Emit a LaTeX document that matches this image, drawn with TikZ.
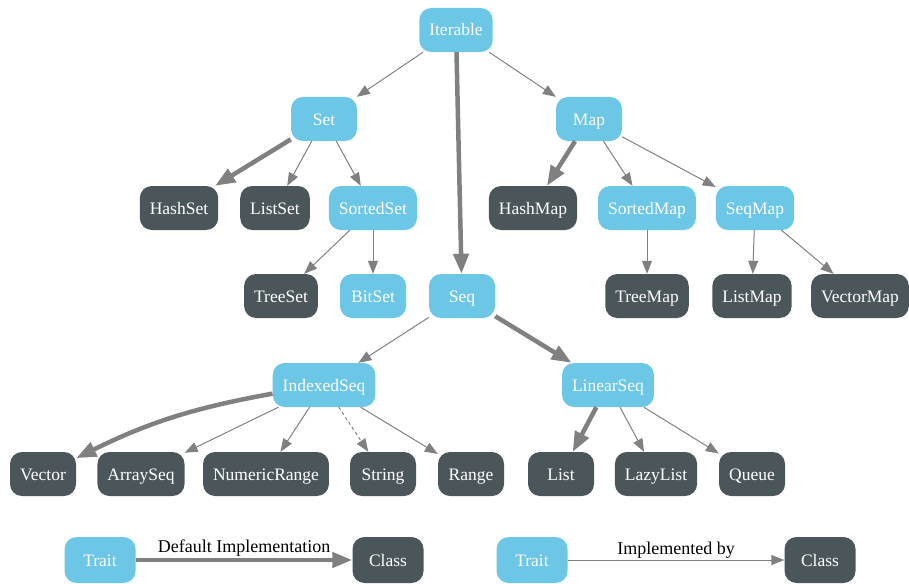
\documentclass[tikz,border=0pt]{standalone}
\usepackage{fontspec}
\setmainfont{Liberation Serif}
\usetikzlibrary{arrows.meta}
\definecolor{traitblue}{HTML}{6CC6E6}
\definecolor{classgray}{HTML}{4B565A}
\definecolor{edgegray}{HTML}{808080}
\begin{document}
\begin{tikzpicture}[x=1pt, y=-1pt, font=\fontsize{17.5}{20}\selectfont, line join=round, >={Triangle[length=13pt,width=10pt]},
	box/.style={rounded corners=12pt, minimum width=66pt, minimum height=44pt, inner xsep=10pt, text height=15pt, text depth=3pt, text=white},
	trait/.style={box, fill=traitblue},
	cls/.style={box, fill=classgray},
	key/.style={minimum width=71pt, minimum height=46pt},
	isa/.style={->, draw=edgegray, line width=1pt},
	dflt/.style={-{Triangle[length=20pt,width=15pt]}, draw=edgegray, line width=4.5pt},
	legtext/.style={text=black, font=\fontsize{18}{20}\selectfont, inner sep=1pt}]
	\useasboundingbox (0,0) rectangle (909,583);
	% traits and classes
	\node[trait] (iterable) at (456,30) {Iterable};
	\node[trait] (set) at (324,119) {Set};
	\node[trait] (map) at (589,119) {Map};
	\node[cls] (hashset) at (179,208) {HashSet};
	\node[cls] (listset) at (275,208) {ListSet};
	\node[trait] (sortedset) at (373,208) {SortedSet};
	\node[cls] (hashmap) at (533,208) {HashMap};
	\node[trait] (sortedmap) at (647,208) {SortedMap};
	\node[trait] (seqmap) at (755,208) {SeqMap};
	\node[cls] (treeset) at (281,296) {TreeSet};
	\node[trait] (bitset) at (373,296) {BitSet};
	\node[trait] (seq) at (462,296) {Seq};
	\node[cls] (treemap) at (647,296) {TreeMap};
	\node[cls] (listmap) at (752,296) {ListMap};
	\node[cls] (vectormap) at (860,296) {VectorMap};
	\node[trait] (indexedseq) at (324,385) {IndexedSeq};
	\node[trait] (linearseq) at (608,385) {LinearSeq};
	\node[cls] (vector) at (43,474) {Vector};
	\node[cls] (arrayseq) at (141,474) {ArraySeq};
	\node[cls] (numericrange) at (266,474) {NumericRange};
	\node[cls] (string) at (383,474) {String};
	\node[cls] (range) at (471,474) {Range};
	\node[cls] (list) at (561,474) {List};
	\node[cls] (lazylist) at (656,474) {LazyList};
	\node[cls] (queue) at (752,474) {Queue};
	% edges
	\draw[isa] (iterable) -- (set);
	\draw[isa] (iterable) -- (map);
	\draw[dflt] (iterable) -- (seq);
	\draw[dflt] (set) -- (hashset);
	\draw[isa] (set) -- (listset);
	\draw[isa] (set) -- (sortedset);
	\draw[isa] (sortedset) -- (treeset);
	\draw[isa] (sortedset) -- (bitset);
	\draw[dflt] (map) -- (hashmap);
	\draw[isa] (map) -- (sortedmap);
	\draw[isa] (map) -- (seqmap);
	\draw[isa] (sortedmap) -- (treemap);
	\draw[isa] (seqmap) -- (listmap);
	\draw[isa] (seqmap) -- (vectormap);
	\draw[isa] (seq) -- (indexedseq);
	\draw[dflt] (seq) -- (linearseq);
	\draw[dflt] (indexedseq) to[bend right=8] (vector);
	\draw[isa] (indexedseq) -- (arrayseq);
	\draw[isa] (indexedseq) -- (numericrange);
	\draw[isa, dashed] (indexedseq) -- (string);
	\draw[isa] (indexedseq) -- (range);
	\draw[dflt] (linearseq) -- (list);
	\draw[isa] (linearseq) -- (lazylist);
	\draw[isa] (linearseq) -- (queue);
	% legend
	\node[trait,key] (traitA) at (100,560) {Trait};
	\node[cls,key] (classA) at (388,560) {Class};
	\node[trait,key] (traitB) at (532,560) {Trait};
	\node[cls,key] (classB) at (820,560) {Class};
	\draw[dflt] (traitA) --node[midway,above,legtext]{Default Implementation} (classA);
	\draw[isa] (traitB) --node[midway,above,legtext]{Implemented by} (classB);
\end{tikzpicture}
\end{document}
